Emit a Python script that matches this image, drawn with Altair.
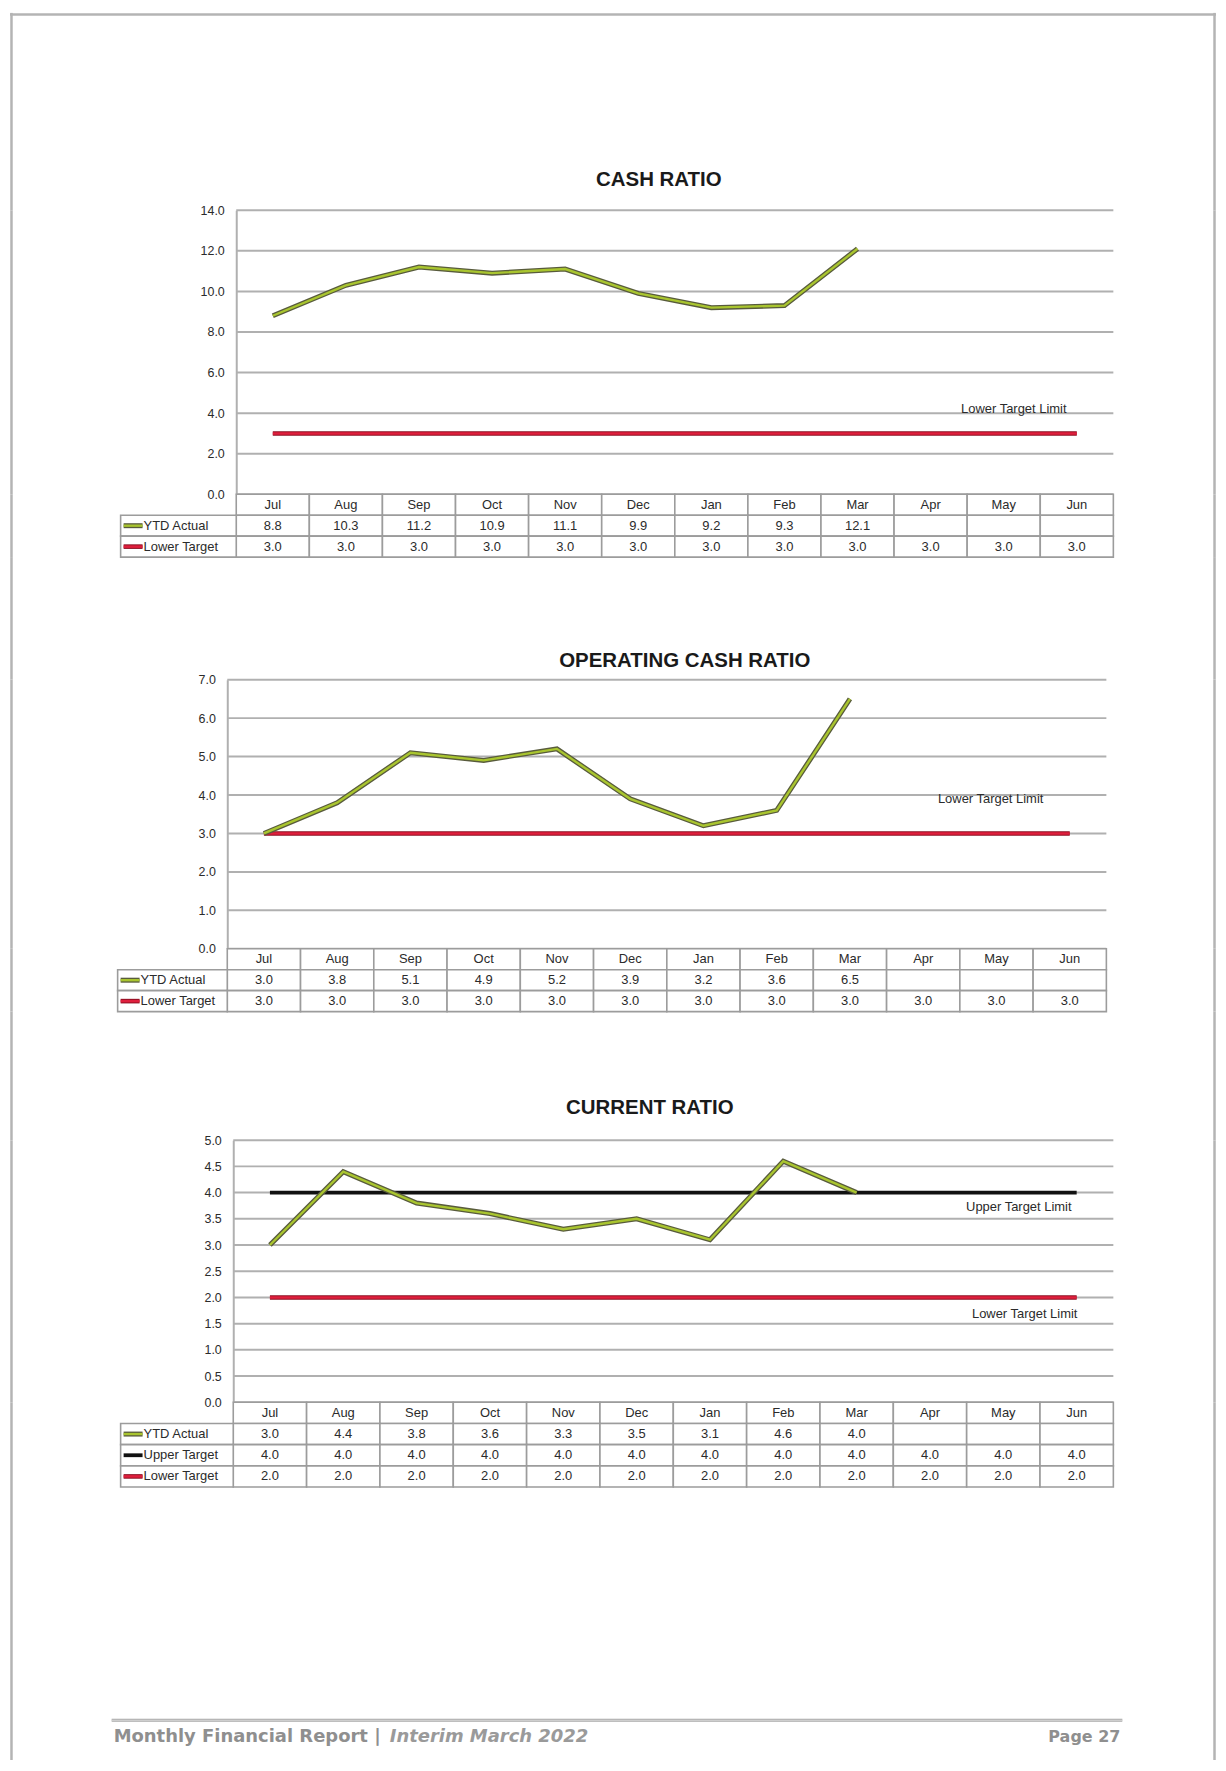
import altair as alt
import pandas as pd

# ---------------- data ----------------
months = ["Jul", "Aug", "Sep", "Oct", "Nov", "Dec", "Jan", "Feb", "Mar", "Apr", "May", "Jun"]

cash_actual = [8.8, 10.3, 11.2, 10.9, 11.1, 9.9, 9.2, 9.3, 12.1]
cash_lower = [3.0, 3.0, 3.0, 3.0, 3.0, 3.0, 3.0, 3.0, 3.0, 3.0, 3.0, 3.0]
cash_ticks = [0.0, 2.0, 4.0, 6.0, 8.0, 10.0, 12.0, 14.0]

op_actual = [3.0, 3.8, 5.1, 4.9, 5.2, 3.9, 3.2, 3.6, 6.5]
op_lower = [3.0, 3.0, 3.0, 3.0, 3.0, 3.0, 3.0, 3.0, 3.0, 3.0, 3.0, 3.0]
op_ticks = [0.0, 1.0, 2.0, 3.0, 4.0, 5.0, 6.0, 7.0]

cur_actual = [3.0, 4.4, 3.8, 3.6, 3.3, 3.5, 3.1, 4.6, 4.0]
cur_upper = [4.0, 4.0, 4.0, 4.0, 4.0, 4.0, 4.0, 4.0, 4.0, 4.0, 4.0, 4.0]
cur_lower = [2.0, 2.0, 2.0, 2.0, 2.0, 2.0, 2.0, 2.0, 2.0, 2.0, 2.0, 2.0]
cur_ticks = [0.0, 0.5, 1.0, 1.5, 2.0, 2.5, 3.0, 3.5, 4.0, 4.5, 5.0]

titles = ["CASH RATIO", "OPERATING CASH RATIO", "CURRENT RATIO"]
footer_left = "Monthly Financial Report |"
footer_mid = "Interim March 2022"
footer_right = "Page 27"

# ---------------- layout / style ----------------
LEFT = 8            # page x of the column origin
W = 1210            # width of every panel
FONT = "Liberation Sans, Arial, sans-serif"
TFONT = "Liberation Sans, Arial, sans-serif"
FFONT = "DejaVu Sans, sans-serif"
GRID = "#b0b0b0"
BORDER = "#9c9c9c"
PAGE = "#b4b4b4"
TEXT = "#2b2b2b"

STYLE = {
    "YTD Actual": [("#585b3c", 5.0), ("#a9c52f", 2.4)],
    "Lower Target": [("#8e0f22", 4.6), ("#df1f3d", 2.6)],
    "Upper Target": [("#111111", 3.8)],
}

ONE = pd.DataFrame({"k": [0]})


def page_sides(height):
    """left and right page-frame segments of a panel"""
    l = alt.Chart(ONE).mark_rule(color=PAGE, strokeWidth=2.5).encode(
        x=alt.value(1.5), y=alt.value(0), y2=alt.value(height))
    r = alt.Chart(ONE).mark_rule(color=PAGE, strokeWidth=2.5).encode(
        x=alt.value(W - 1.5), y=alt.value(0), y2=alt.value(height))
    return [l, r]


def xscale(axis_px, right_px):
    u = (right_px - axis_px) / len(months)
    a = axis_px - LEFT
    return alt.Scale(domain=[-a / u, (W - a) / u], nice=False, zero=False), u, a


def spacer(height, title, tx, ty, top=False):
    df = pd.DataFrame({"t": [title]})
    layers = [alt.Chart(df).mark_text(
        font=TFONT, fontSize=20.5, fontWeight="bold", color="#1a1a1a",
        align="center", baseline="middle"
    ).encode(text="t:N", x=alt.value(tx - LEFT), y=alt.value(ty))]
    layers += page_sides(height)
    if top:
        layers.append(alt.Chart(ONE).mark_rule(color=PAGE, strokeWidth=2.5).encode(
            x=alt.value(0), x2=alt.value(W), y=alt.value(1.5)))
    return alt.layer(*layers).properties(width=W, height=height)


def plot_panel(series, ticks, height, axis_px, right_px, notes):
    xs, u, a = xscale(axis_px, right_px)
    ys = alt.Scale(domain=[ticks[0], ticks[-1]], nice=False, zero=False)
    yaxis = alt.Axis(
        values=ticks, format=".1f", offset=-a, ticks=False, grid=False,
        domain=True, domainColor=GRID, domainWidth=2,
        labelFont=FONT, labelFontSize=12.5, labelColor=TEXT, labelPadding=12,
        title=None)
    grid_df = pd.DataFrame({"v": ticks, "x0": 0.0, "x1": float(len(months))})
    grid = alt.Chart(grid_df).mark_rule(color=GRID, strokeWidth=2).encode(
        x=alt.X("x0:Q", scale=xs, axis=None),
        x2="x1:Q",
        y=alt.Y("v:Q", scale=ys, axis=yaxis),
    )
    layers = [grid]
    for name, vals in series[::-1]:
        df = pd.DataFrame({"x": [i + 0.5 for i in range(len(vals))], "y": vals})
        for col, sw in STYLE[name]:
            layers.append(alt.Chart(df).mark_line(color=col, strokeWidth=sw).encode(
                x=alt.X("x:Q", scale=xs, axis=None),
                y=alt.Y("y:Q", scale=ys, axis=yaxis)))
    ndf = pd.DataFrame(notes, columns=["x", "y", "t"])
    layers.append(alt.Chart(ndf).mark_text(
        font=FONT, fontSize=13, color=TEXT, align="right", baseline="middle"
    ).encode(x=alt.X("x:Q", scale=xs, axis=None), y=alt.Y("y:Q", scale=ys, axis=yaxis), text="t:N"))
    layers += page_sides(height)
    return alt.layer(*layers).properties(width=W, height=height)


def table_panel(series, height, axis_px, right_px, legend_px):
    xs, u, a = xscale(axis_px, right_px)
    nrows = len(series) + 1
    ys = alt.Scale(domain=[0, nrows], nice=False, zero=False, reverse=True)
    leg = -(axis_px - legend_px) / u
    cells = []
    for i, m in enumerate(months):
        cells.append({"x0": i, "x1": i + 1, "y0": 0, "y1": 1, "t": m})
    for r, (name, vals) in enumerate(series, start=1):
        for i in range(len(months)):
            t = f"{vals[i]:.1f}" if i < len(vals) else ""
            cells.append({"x0": i, "x1": i + 1, "y0": r, "y1": r + 1, "t": t})
        cells.append({"x0": leg, "x1": 0, "y0": r, "y1": r + 1, "t": ""})
    cdf = pd.DataFrame(cells)
    cdf["xm"] = (cdf["x0"] + cdf["x1"]) / 2
    cdf["ym"] = (cdf["y0"] + cdf["y1"]) / 2
    rect = alt.Chart(cdf).mark_rect(fill="white", stroke=BORDER, strokeWidth=1.6).encode(
        x=alt.X("x0:Q", scale=xs, axis=None), x2="x1:Q",
        y=alt.Y("y0:Q", scale=ys, axis=None), y2="y1:Q")
    txt = alt.Chart(cdf).mark_text(font=FONT, fontSize=13, color=TEXT, baseline="middle").encode(
        x=alt.X("xm:Q", scale=xs, axis=None), y=alt.Y("ym:Q", scale=ys, axis=None), text="t:N")
    layers = [rect, txt]
    for r, (name, vals) in enumerate(series, start=1):
        sdf = pd.DataFrame({"x0": [leg + 3 / u], "x1": [leg + 22 / u], "y": [r + 0.5],
                            "lx": [leg + 23 / u], "t": [name]})
        for col, sw in STYLE[name]:
            layers.append(alt.Chart(sdf).mark_rule(color=col, strokeWidth=sw).encode(
                x=alt.X("x0:Q", scale=xs, axis=None), x2="x1:Q",
                y=alt.Y("y:Q", scale=ys, axis=None)))
        layers.append(alt.Chart(sdf).mark_text(
            font=FONT, fontSize=13, color=TEXT, align="left", baseline="middle").encode(
            x=alt.X("lx:Q", scale=xs, axis=None), y=alt.Y("y:Q", scale=ys, axis=None), text="t:N"))
    layers += page_sides(height)
    return alt.layer(*layers).properties(width=W, height=height)


def footer(height):
    fdf = pd.DataFrame({"a": [footer_left], "b": [footer_mid], "c": [footer_right]})
    base = alt.Chart(fdf)
    line1 = base.mark_rule(color="#a8a8a8", strokeWidth=3.2).encode(
        x=alt.value(110 - LEFT), x2=alt.value(1124 - LEFT), y=alt.value(234))
    line2 = base.mark_rule(color="#dcdcdc", strokeWidth=1).encode(
        x=alt.value(110 - LEFT), x2=alt.value(1124 - LEFT), y=alt.value(234))
    t1 = base.mark_text(font=FFONT, fontSize=18, fontWeight="bold", color="#8f8f8f",
                        align="left", baseline="middle").encode(
        text="a:N", x=alt.value(112 - LEFT), y=alt.value(251))
    t2 = base.mark_text(font=FFONT, fontSize=18, fontWeight="bold", fontStyle="italic",
                        color="#9a9a9a", align="left", baseline="middle").encode(
        text="b:N", x=alt.value(389 - LEFT), y=alt.value(251))
    t3 = base.mark_text(font=FFONT, fontSize=16, fontWeight="bold", color="#8f8f8f",
                        align="right", baseline="middle").encode(
        text="c:N", x=alt.value(1122 - LEFT), y=alt.value(251))
    return alt.layer(line1, line2, t1, t2, t3, *page_sides(height)).properties(width=W, height=height)


s1 = [("YTD Actual", cash_actual), ("Lower Target", cash_lower)]
s2 = [("YTD Actual", op_actual), ("Lower Target", op_lower)]
s3 = [("YTD Actual", cur_actual), ("Upper Target", cur_upper), ("Lower Target", cur_lower)]

charts = [
    spacer(198, titles[0], 659, 167.5, top=True),
    plot_panel(s1, cash_ticks, 285, 235, 1115, [(11.36, 4.18, "Lower Target Limit")]),
    table_panel(s1, 63, 235, 1115, 119),
    spacer(123, titles[1], 685, 104),
    plot_panel(s2, op_ticks, 270, 226, 1108, [(11.14, 3.89, "Lower Target Limit")]),
    table_panel(s2, 63, 226, 1108, 116),
    spacer(129, titles[2], 650, 97),
    plot_panel(s3, cur_ticks, 263, 232, 1115, [(11.43, 3.73, "Upper Target Limit"),
                                               (11.51, 1.69, "Lower Target Limit")]),
    table_panel(s3, 85, 232, 1115, 119),
    footer(274),
]

chart = alt.vconcat(*charts, spacing=0, bounds="flush").properties(
    padding={"left": 0, "top": 0, "right": 0, "bottom": 0}
).configure(background="white").configure_view(strokeWidth=0, stroke="transparent")

chart.save("out.html", embed_options={"renderer": "svg", "actions": False})
